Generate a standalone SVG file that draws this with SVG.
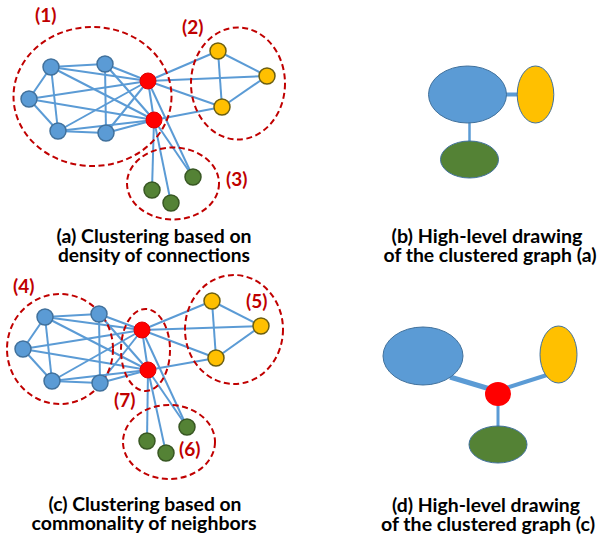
<svg xmlns="http://www.w3.org/2000/svg" width="600" height="538" viewBox="0 0 600 538">
<style>
.e{stroke:#5B9BD5;stroke-width:2;fill:none}
.b{fill:#5B9BD5;stroke:#41719C;stroke-width:1.5}
.r{fill:#FF0000;stroke:#E00000;stroke-width:1}
.y{fill:#FFC000;stroke:#6B5E12;stroke-width:1.5}
.g{fill:#548235;stroke:#385723;stroke-width:1.5}
.c{fill:none;stroke:#C00000;stroke-width:2;stroke-dasharray:6 3.5}
.n{font-family:Lato,"Liberation Sans",sans-serif;font-weight:bold;font-size:19px;fill:#C00000}
.t{font-family:Lato,"Liberation Sans",sans-serif;font-weight:bold;font-size:18px;fill:#000;text-anchor:middle}
.hb{fill:#5B9BD5;stroke:#41719C;stroke-width:1}
.hy{fill:#FFC000;stroke:#41719C;stroke-width:1}
.hg{fill:#548235;stroke:#41719C;stroke-width:1}
.he{stroke:#5B9BD5;fill:none}
</style>
<g id="connectors">
<!-- top graph -->
<line class="e" x1="51" y1="67" x2="105" y2="64"/>
<line class="e" x1="51" y1="67" x2="29" y2="99"/>
<line class="e" x1="51" y1="67" x2="58" y2="131"/>
<line class="e" x1="51" y1="67" x2="148" y2="81"/>
<line class="e" x1="51" y1="67" x2="154" y2="120"/>
<line class="e" x1="105" y1="64" x2="106" y2="133"/>
<line class="e" x1="105" y1="64" x2="148" y2="81"/>
<line class="e" x1="105" y1="64" x2="154" y2="120"/>
<line class="e" x1="29" y1="99" x2="148" y2="81"/>
<line class="e" x1="29" y1="99" x2="154" y2="120"/>
<line class="e" x1="29" y1="99" x2="58" y2="131"/>
<line class="e" x1="58" y1="131" x2="106" y2="133"/>
<line class="e" x1="58" y1="131" x2="148" y2="81"/>
<line class="e" x1="58" y1="131" x2="154" y2="120"/>
<line class="e" x1="106" y1="133" x2="148" y2="81"/>
<line class="e" x1="106" y1="133" x2="154" y2="120"/>
<line class="e" x1="148" y1="81" x2="154" y2="120"/>
<line class="e" x1="148" y1="81" x2="218" y2="51"/>
<line class="e" x1="148" y1="81" x2="267" y2="76"/>
<line class="e" x1="148" y1="81" x2="222" y2="107"/>
<line class="e" x1="154" y1="120" x2="222" y2="107"/>
<line class="e" x1="218" y1="51" x2="267" y2="76"/>
<line class="e" x1="218" y1="51" x2="222" y2="107"/>
<line class="e" x1="267" y1="76" x2="222" y2="107"/>
<line class="e" x1="148" y1="81" x2="193" y2="177"/>
<line class="e" x1="154" y1="120" x2="193" y2="177"/>
<line class="e" x1="154" y1="120" x2="152" y2="190"/>
<line class="e" x1="154" y1="120" x2="171" y2="203"/>
<!-- bottom graph -->
<line class="e" x1="45" y1="317" x2="99" y2="314"/>
<line class="e" x1="45" y1="317" x2="23" y2="349"/>
<line class="e" x1="45" y1="317" x2="52" y2="381"/>
<line class="e" x1="45" y1="317" x2="142" y2="330"/>
<line class="e" x1="45" y1="317" x2="148" y2="370"/>
<line class="e" x1="99" y1="314" x2="100" y2="383"/>
<line class="e" x1="99" y1="314" x2="142" y2="330"/>
<line class="e" x1="99" y1="314" x2="148" y2="370"/>
<line class="e" x1="23" y1="349" x2="142" y2="330"/>
<line class="e" x1="23" y1="349" x2="148" y2="370"/>
<line class="e" x1="23" y1="349" x2="52" y2="381"/>
<line class="e" x1="52" y1="381" x2="100" y2="383"/>
<line class="e" x1="52" y1="381" x2="142" y2="330"/>
<line class="e" x1="52" y1="381" x2="148" y2="370"/>
<line class="e" x1="100" y1="383" x2="142" y2="330"/>
<line class="e" x1="100" y1="383" x2="148" y2="370"/>
<line class="e" x1="142" y1="330" x2="148" y2="370"/>
<line class="e" x1="142" y1="330" x2="212" y2="301"/>
<line class="e" x1="142" y1="330" x2="261" y2="326"/>
<line class="e" x1="142" y1="330" x2="216" y2="358"/>
<line class="e" x1="148" y1="370" x2="216" y2="358"/>
<line class="e" x1="212" y1="301" x2="261" y2="326"/>
<line class="e" x1="212" y1="301" x2="216" y2="358"/>
<line class="e" x1="261" y1="326" x2="216" y2="358"/>
<line class="e" x1="142" y1="330" x2="187" y2="427"/>
<line class="e" x1="148" y1="370" x2="187" y2="427"/>
<line class="e" x1="148" y1="370" x2="147" y2="441"/>
<line class="e" x1="148" y1="370" x2="166" y2="453"/>
<!-- high-level (b) -->
<line class="he" x1="505" y1="94.5" x2="519" y2="94.5" stroke-width="4"/>
<line class="he" x1="469.5" y1="122" x2="469.5" y2="142" stroke-width="2.5"/>
<!-- high-level (d) -->
<line class="he" x1="450" y1="377" x2="490" y2="389" stroke-width="5"/>
<line class="he" x1="547" y1="375" x2="506" y2="388" stroke-width="4"/>
<line class="he" x1="498" y1="404" x2="498" y2="427" stroke-width="3"/>
</g>
<g id="clusters-a">
<ellipse class="c" cx="92.5" cy="96.5" rx="79" ry="69.5"/>
<ellipse class="c" cx="238" cy="83.5" rx="47" ry="56"/>
<ellipse class="c" cx="173" cy="183.5" rx="46" ry="36"/>
</g>
<g id="clusters-c">
<ellipse class="c" cx="60" cy="349" rx="53" ry="55"/>
<ellipse class="c" cx="145.5" cy="350" rx="24.5" ry="41"/>
<ellipse class="c" cx="234" cy="329.5" rx="49" ry="54.5"/>
<ellipse class="c" cx="169" cy="442" rx="46" ry="37"/>
</g>
<g id="graph-a-nodes">
<g id="a-b1"><circle class="b" cx="51" cy="67" r="8"/></g>
<g id="a-b2"><circle class="b" cx="105" cy="64" r="8"/></g>
<g id="a-b3"><circle class="b" cx="29" cy="99" r="8"/></g>
<g id="a-b4"><circle class="b" cx="58" cy="131" r="8"/></g>
<g id="a-b5"><circle class="b" cx="106" cy="133" r="8"/></g>
<g id="a-r1"><circle class="r" cx="148" cy="81" r="8"/></g>
<g id="a-r2"><circle class="r" cx="154" cy="120" r="8"/></g>
<g id="a-y1"><circle class="y" cx="218" cy="51" r="8"/></g>
<g id="a-y2"><circle class="y" cx="267" cy="76" r="8"/></g>
<g id="a-y3"><circle class="y" cx="222" cy="107" r="8"/></g>
<g id="a-g1"><circle class="g" cx="193" cy="177" r="8"/></g>
<g id="a-g2"><circle class="g" cx="152" cy="190" r="8"/></g>
<g id="a-g3"><circle class="g" cx="171" cy="203" r="8"/></g>
</g>
<g id="graph-c-nodes">
<g id="c-b1"><circle class="b" cx="45" cy="317" r="8"/></g>
<g id="c-b2"><circle class="b" cx="99" cy="314" r="8"/></g>
<g id="c-b3"><circle class="b" cx="23" cy="349" r="8"/></g>
<g id="c-b4"><circle class="b" cx="52" cy="381" r="8"/></g>
<g id="c-b5"><circle class="b" cx="100" cy="383" r="8"/></g>
<g id="c-r1"><circle class="r" cx="142" cy="330" r="8"/></g>
<g id="c-r2"><circle class="r" cx="148" cy="370" r="8"/></g>
<g id="c-y1"><circle class="y" cx="212" cy="301" r="8"/></g>
<g id="c-y2"><circle class="y" cx="261" cy="326" r="8"/></g>
<g id="c-y3"><circle class="y" cx="216" cy="358" r="8"/></g>
<g id="c-g1"><circle class="g" cx="187" cy="427" r="8"/></g>
<g id="c-g2"><circle class="g" cx="147" cy="441" r="8"/></g>
<g id="c-g3"><circle class="g" cx="166" cy="453" r="8"/></g>
</g>
<g id="labels">
<text class="n" x="35" y="22">(1)</text>
<text class="n" x="182" y="34">(2)</text>
<text class="n" x="226" y="186">(3)</text>
<text class="n" x="13" y="293">(4)</text>
<text class="n" x="246" y="308">(5)</text>
<text class="n" x="179" y="456">(6)</text>
<text class="n" x="114" y="407">(7)</text>
</g>
<g id="hl-b">
<g id="hb-blue"><ellipse class="hb" cx="467.5" cy="94.5" rx="39" ry="28.5"/></g>
<g id="hb-yellow"><ellipse class="hy" cx="535.5" cy="94.5" rx="18.3" ry="28.5"/></g>
<g id="hb-green"><ellipse class="hg" cx="469.5" cy="159.5" rx="29" ry="18.5"/></g>
</g>
<g id="hl-d">
<g id="hd-blue"><ellipse class="hb" cx="423" cy="356" rx="40" ry="29"/></g>
<g id="hd-yellow"><ellipse class="hy" cx="558.5" cy="354.5" rx="18.5" ry="28.5"/></g>
<g id="hd-red"><ellipse fill="#FF0000" cx="498" cy="394" rx="13" ry="12"/></g>
<g id="hd-green"><ellipse class="hg" cx="498" cy="444.5" rx="29" ry="18.5"/></g>
</g>
<g id="captions">
<text class="t" x="154" y="243" textLength="195" lengthAdjust="spacingAndGlyphs">(a) Clustering based on</text>
<text class="t" x="154" y="262" textLength="192" lengthAdjust="spacingAndGlyphs">density of connections</text>
<text class="t" x="487" y="243" textLength="191" lengthAdjust="spacingAndGlyphs">(b) High-level drawing</text>
<text class="t" x="490" y="262" textLength="213" lengthAdjust="spacingAndGlyphs">of the clustered graph (a)</text>
<text class="t" x="145" y="511" textLength="193" lengthAdjust="spacingAndGlyphs">(c) Clustering based on</text>
<text class="t" x="144" y="530" textLength="225" lengthAdjust="spacingAndGlyphs">commonality of neighbors</text>
<text class="t" x="486" y="512" textLength="188" lengthAdjust="spacingAndGlyphs">(d) High-level drawing</text>
<text class="t" x="488" y="531" textLength="214" lengthAdjust="spacingAndGlyphs">of the clustered graph (c)</text>
</g>
</svg>
